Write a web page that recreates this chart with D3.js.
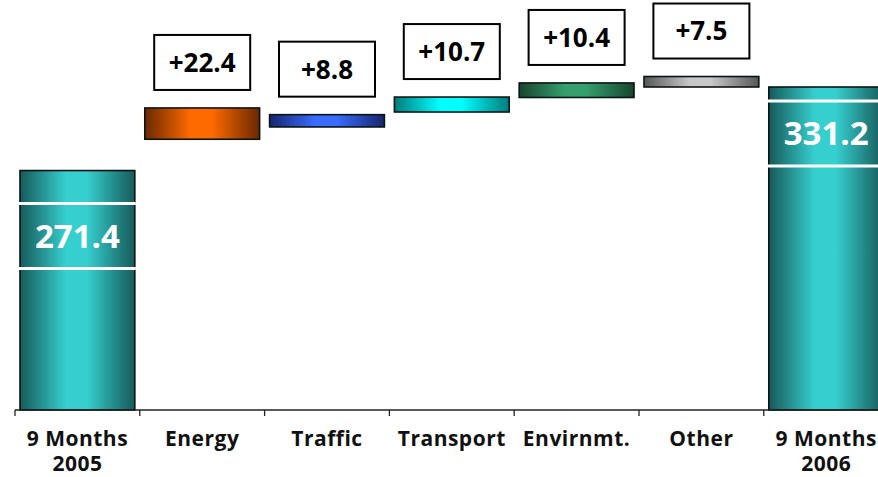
<!DOCTYPE html>
<html>
<head>
<meta charset="utf-8">
<script src="https://cdn.jsdelivr.net/npm/d3@7/dist/d3.min.js"></script>
<style>
  html, body { margin: 0; padding: 0; background: #fff; overflow: hidden; }
  svg { display: block; font-family: "Open Sans", "DejaVu Sans", sans-serif; }
</style>
</head>
<body>
<svg id="chart" width="878" height="477"></svg>
<script>
// Sales bridge, 9 months 2005 -> 9 months 2006 (EUR m)
const categories = ["9 Months\n2005", "Energy", "Traffic", "Transport", "Envirnmt.", "Other", "9 Months\n2006"];
const kinds      = ["total", "step", "step", "step", "step", "step", "total"];
const values     = [271.4, 22.4, 8.8, 10.7, 10.4, 7.5, 331.2];
const valueLabels = ["271.4", "+22.4", "+8.8", "+10.7", "+10.4", "+7.5", "331.2"];

// gradient colours per bar: [edge, centre]
const palette = [
  ["#175a5a", "#36cfcf"],
  ["#6a2800", "#ff6a00"],
  ["#16256e", "#3a6cff"],
  ["#007c7c", "#00ffff"],
  ["#17452f", "#35a06d"],
  ["#575757", "#c8c8c8"],
  ["#175a5a", "#36cfcf"]
];

const svg = d3.select("#chart");
const defs = svg.append("defs");

const x = d3.scaleBand()
  .domain(categories)
  .range([15, 888.6])
  .paddingInner(0.08)
  .paddingOuter(0.04);

const y = d3.scaleLinear().domain([100, 331.2]).range([410, 87]);
const baseY = 410;

// running totals: each step floats just above the level it brings the bridge to
let running = 0;
const bars = categories.map((c, i) => {
  let lo, hi;
  if (kinds[i] === "total") {
    running = values[i];
    lo = y.domain()[0];
    hi = values[i];
  } else {
    running += values[i];
    lo = running;
    hi = running + values[i];
  }
  return { c, i, kind: kinds[i], lo, hi, label: valueLabels[i] };
});

// horizontal shading for each bar
palette.forEach((p, i) => {
  const g = defs.append("linearGradient")
    .attr("id", "grad" + i)
    .attr("x1", "0%").attr("x2", "100%").attr("y1", "0%").attr("y2", "0%");
  g.append("stop").attr("offset", "0%").attr("stop-color", p[0]);
  g.append("stop").attr("offset", "40%").attr("stop-color", p[1]);
  g.append("stop").attr("offset", "58%").attr("stop-color", p[1]);
  g.append("stop").attr("offset", "100%").attr("stop-color", p[0]);
});

const gBars = svg.append("g");
gBars.selectAll("rect.bar")
  .data(bars)
  .join("rect")
  .attr("class", "bar")
  .attr("x", d => x(d.c))
  .attr("width", x.bandwidth())
  .attr("y", d => y(d.hi))
  .attr("height", d => y(d.lo) - y(d.hi))
  .attr("fill", d => `url(#grad${d.i})`)
  .attr("stroke", "#0a1414")
  .attr("stroke-width", 1.6);

// label bands inside the totals
const totalBandOffset = { 0: 33, 6: 14 };
const bandH = 65;
const totals = bars.filter(d => d.kind === "total");
totals.forEach(d => {
  const top = y(d.hi) + totalBandOffset[d.i];
  [top, top + bandH].forEach(ly => {
    gBars.append("line")
      .attr("x1", x(d.c) - 1).attr("x2", x(d.c) + x.bandwidth() + 1)
      .attr("y1", ly).attr("y2", ly)
      .attr("stroke", "#fff").attr("stroke-width", 3);
  });
  gBars.append("text")
    .attr("x", x(d.c) + x.bandwidth() / 2)
    .attr("y", top + bandH / 2)
    .attr("dy", "0.36em")
    .attr("text-anchor", "middle")
    .attr("fill", "#fff")
    .attr("font-weight", 700)
    .attr("font-size", 33)
    .text(d.label);
});

// boxed value callouts above each step
const boxW = 96, boxH = 55, boxGap = 18;
const steps = bars.filter(d => d.kind === "step");
const gBox = svg.append("g");
steps.forEach(d => {
  const cx = x(d.c) + x.bandwidth() / 2;
  const bottom = y(d.hi) - boxGap;
  gBox.append("rect")
    .attr("x", cx - boxW / 2).attr("y", bottom - boxH)
    .attr("width", boxW).attr("height", boxH)
    .attr("fill", "#fff").attr("stroke", "#000").attr("stroke-width", 2);
  gBox.append("text")
    .attr("x", cx).attr("y", bottom - boxH / 2)
    .attr("dy", "0.36em")
    .attr("text-anchor", "middle")
    .attr("font-weight", 700)
    .attr("font-size", 26)
    .attr("fill", "#000")
    .text(d.label);
});

// category axis: ticks on band boundaries
const gAxis = svg.append("g");
const edgeOf = c => x(c) - x.step() * x.paddingInner() / 2;
gAxis.append("line")
  .attr("x1", edgeOf(categories[0])).attr("x2", 878)
  .attr("y1", baseY).attr("y2", baseY)
  .attr("stroke", "#222").attr("stroke-width", 1.3);
gAxis.selectAll("line.tick")
  .data(categories)
  .join("line")
  .attr("class", "tick")
  .attr("x1", c => edgeOf(c)).attr("x2", c => edgeOf(c))
  .attr("y1", baseY).attr("y2", baseY + 6)
  .attr("stroke", "#222").attr("stroke-width", 1.3);

// one text element per label line
const labelLines = categories.flatMap(c =>
  c.split("\n").map((line, k) => ({ c, line, k })));
gAxis.selectAll("text.cat")
  .data(labelLines)
  .join("text")
  .attr("class", "cat")
  .attr("x", d => x(d.c) + x.bandwidth() / 2)
  .attr("y", d => 446 + d.k * 25)
  .attr("text-anchor", "middle")
  .attr("font-weight", 700)
  .attr("font-size", 21)
  .attr("letter-spacing", 0.5)
  .attr("fill", "#111")
  .text(d => d.line);
</script>
</body>
</html>
